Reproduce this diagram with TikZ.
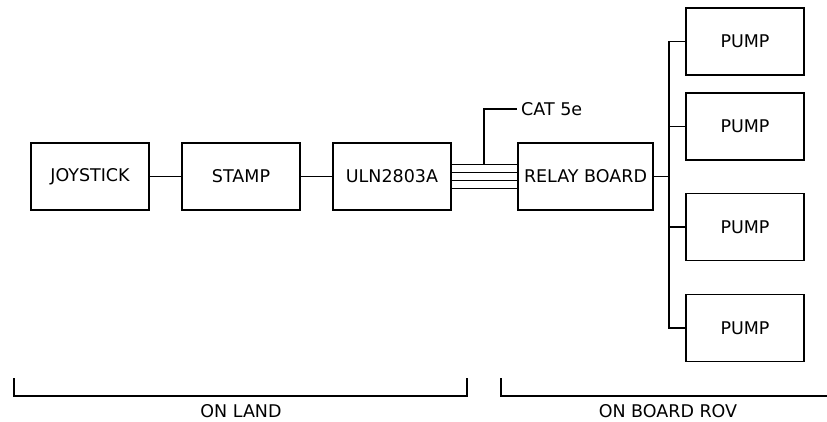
\documentclass[tikz,border=0pt]{standalone}
\usepackage{fontspec}
\setmainfont{DejaVu Sans}
\usepackage{tikz}
\usetikzlibrary{positioning}
\tikzset{
  unit/.style={
    rectangle, draw=black, fill=white, outer sep=0pt,
    minimum width=118pt, minimum height=67pt,
    font=\fontsize{17.5}{20}\selectfont, text centered, line width=1.6pt
  },
  wire/.style={line width=1.6pt},
  label/.style={font=\fontsize{17.5}{20}\selectfont, inner sep=4pt},
}
\begin{document}
\begin{tikzpicture}[x=1pt, y=-1pt, node distance=33pt]
\useasboundingbox (0,0) rectangle (827,422);

\node[unit] (joy) at (90,176.5) {JOYSTICK};
\node[unit, right=of joy] (stamp) {STAMP};
\node[unit, right=of stamp] (uln) {ULN2803A};
\node[unit, minimum width=135pt, right=67pt of uln] (relay) {RELAY BOARD};

\node[unit] (pump1) at (745,41.5) {PUMP};
\node[unit] (pump2) at (745,126.5) {PUMP};
\node[unit] (pump3) at (745,227) {PUMP};
\node[unit] (pump4) at (745,328) {PUMP};

\node[label, anchor=west] (cat) at (517,109) {CAT 5e};

\draw[wire] (joy) -- (stamp);
\draw[wire] (stamp) -- (uln);
\foreach \dy in {-12,-4,4,12}
  \draw[wire] ([yshift=\dy pt]uln.east) -- ([yshift=\dy pt]relay.west);
\draw[wire] ([xshift=33pt,yshift=12pt]uln.east) |- (cat.west);

% pump bus
\draw[wire] (pump1.west) -- ++(-17,0) coordinate (bustop) |- (pump4.west);
\foreach \p in {2,3}
  \draw[wire] (pump\p.west) -- (pump\p.west -| bustop);
\draw[wire] (relay.east) -- (relay.east -| bustop);

% location brackets
\draw[wire] (14,378) -- (14,396) -- (467,396) -- (467,378);
\draw[wire] (501,378) -- (501,396) -- (827,396);
\node[label] (land) at (241,411) {ON LAND};
\node[label] (rov) at (668,411) {ON BOARD ROV};

\end{tikzpicture}
\end{document}
